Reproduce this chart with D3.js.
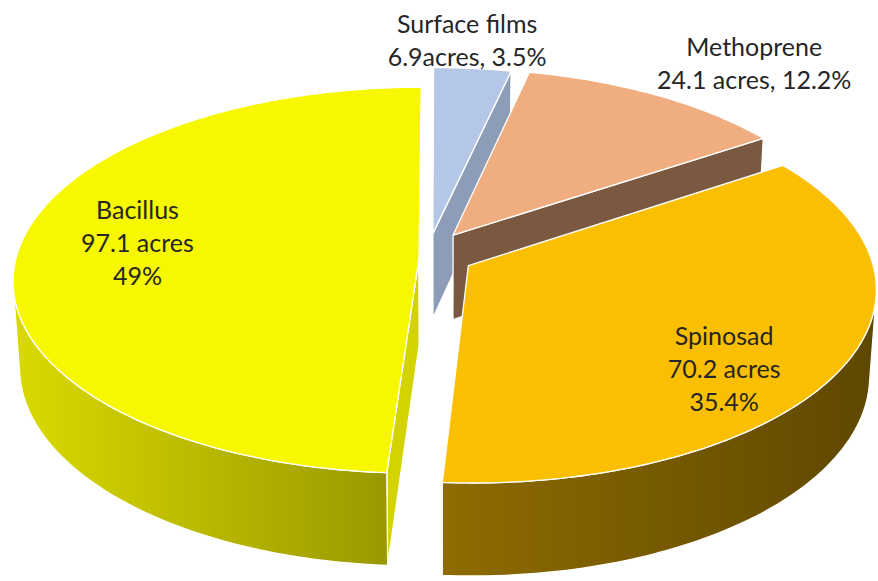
<!DOCTYPE html>
<html>
<head>
<meta charset="utf-8">
<script src="https://cdn.jsdelivr.net/npm/d3@7"></script>
<style>
  body { margin: 0; background: #fff; }
</style>
</head>
<body>
<div id="chart"></div>
<script>
// Data
const categories = ["Surface films", "Methoprene", "Spinosad", "Bacillus"];
const acres = [6.9, 24.1, 70.2, 97.1];
const percents = [3.5, 12.2, 35.4, 49];

// label text lines (the first one has no space in the original)
const labelLines = [
  [categories[0], acres[0] + "acres, " + percents[0] + "%"],
  [categories[1], acres[1] + " acres, " + percents[1] + "%"],
  [categories[2], acres[2] + " acres", percents[2] + "%"],
  [categories[3], acres[3] + " acres", percents[3] + "%"]
];

// Colours per slice
const topColors  = ["#b4c7e7", "#f0ad80", "#fabf00", "#f7f700"];
const sideLeft   = ["#8d9cb7", "#7b5940", "#8f6c00", "#dada00"];
const sideRight  = ["#8d9cb7", "#7b5940", "#5e4700", "#999900"];
const cutColors  = ["#8d9cb7", "#7b5940", "#8d6b00", "#d3d300"];

// explosion of each slice, world units (pie radius = 1)
const explodeX = [-0.018, 0.033, 0.07, -0.052];
const explodeZ = [0.13, 0.122, -0.04, 0];

// label position relative to slice centre: radius and angle (deg, clockwise from top)
const labelR = [1.19, 1.34, 0.78, 0.71];
const labelA = [4.6, 39.4, 130.8, 276.4];

const width = 878, height = 581;

// 3d view settings
const cx = 440, cy = 258, scale = 403;
const elev = 28.2 * Math.PI / 180;
const persp = 0.1306;
const thick = 0.244;
const camDist = 1 / persp;
const camera = [0, camDist * Math.sin(elev), -camDist * Math.cos(elev)];

function project(p) {
  const X = p[0], Y = p[1], Z = p[2];
  const yv = Y * Math.cos(elev) + Z * Math.sin(elev);
  const zv = Z * Math.cos(elev) - Y * Math.sin(elev);
  const f = 1 / (1 + persp * zv);
  return [cx + scale * X * f, cy - scale * yv * f];
}

function viewDepth(p) {
  return p[2] * Math.cos(elev) - p[1] * Math.sin(elev);
}

// is a face with this outward normal, through point p, facing the camera
function facing(normal, p) {
  return normal[0] * (camera[0] - p[0]) + normal[1] * (camera[1] - p[1]) + normal[2] * (camera[2] - p[2]) > 0;
}

const pie = d3.pie().sort(null).value(d => d)(acres);

const svg = d3.select("#chart").append("svg")
  .attr("width", width)
  .attr("height", height)
  .attr("viewBox", [0, 0, width, height]);

svg.append("rect").attr("width", width).attr("height", height).attr("fill", "#fff");

const defs = svg.append("defs");
const line = d3.line();

// build faces for every slice
const slices = pie.map((arc, i) => {
  const c = [explodeX[i], 0, explodeZ[i]];
  const a0 = arc.startAngle, a1 = arc.endAngle;
  const rim = (a, y) => [c[0] + Math.sin(a), y, c[2] + Math.cos(a)];
  const n = Math.max(4, Math.ceil((a1 - a0) / (Math.PI / 180)));
  const angles = d3.range(n + 1).map(k => a0 + (a1 - a0) * k / n);

  const faces = [];

  // radial cut faces
  const cStart = [-Math.cos(a0), 0, Math.sin(a0)];
  const startPts = [c, rim(a0, 0), rim(a0, -thick), [c[0], -thick, c[2]]];
  if (facing(cStart, rim(a0, -thick / 2).map((v, k) => (v + c[k]) / 2)))
    faces.push({type: "cut", pts: startPts});
  const cEnd = [Math.cos(a1), 0, -Math.sin(a1)];
  const endPts = [c, rim(a1, 0), rim(a1, -thick), [c[0], -thick, c[2]]];
  if (facing(cEnd, rim(a1, -thick / 2).map((v, k) => (v + c[k]) / 2)))
    faces.push({type: "cut", pts: endPts});

  // outer wall, keep the runs that face the camera
  let run = [];
  const runs = [];
  for (let k = 0; k < n; k++) {
    const am = (angles[k] + angles[k + 1]) / 2;
    const vis = facing([Math.sin(am), 0, Math.cos(am)], rim(am, -thick / 2));
    if (vis) {
      if (run.length === 0) run.push(angles[k]);
      run.push(angles[k + 1]);
    } else if (run.length) { runs.push(run); run = []; }
  }
  if (run.length) runs.push(run);
  runs.forEach(r => {
    const pts = r.map(a => rim(a, 0)).concat(r.slice().reverse().map(a => rim(a, -thick)));
    faces.push({type: "wall", pts: pts});
  });

  // top face
  faces.push({type: "top", pts: [c].concat(angles.map(a => rim(a, 0)))});

  const mid = (a0 + a1) / 2;
  const depthKey = viewDepth([c[0] + 0.5 * Math.sin(mid), 0, c[2] + 0.5 * Math.cos(mid)]);
  return {i, c, faces, depthKey};
});

// far slices first
slices.sort((a, b) => b.depthKey - a.depthKey);

slices.forEach(s => {
  const i = s.i;
  const g = svg.append("g").attr("class", "slice");
  s.faces.forEach((face, fi) => {
    const pts2 = face.pts.map(project);
    let fill;
    if (face.type === "top") fill = topColors[i];
    else if (face.type === "cut") fill = cutColors[i];
    else {
      const id = "wall" + i + "_" + fi;
      const xs = pts2.map(p => p[0]);
      const grad = defs.append("linearGradient")
        .attr("id", id)
        .attr("gradientUnits", "userSpaceOnUse")
        .attr("x1", d3.min(xs)).attr("x2", d3.max(xs))
        .attr("y1", 0).attr("y2", 0);
      grad.append("stop").attr("offset", 0).attr("stop-color", sideLeft[i]);
      grad.append("stop").attr("offset", 1).attr("stop-color", sideRight[i]);
      fill = "url(#" + id + ")";
    }
    g.append("path")
      .attr("d", line(pts2) + "Z")
      .attr("fill", fill)
      .attr("stroke", "#fff")
      .attr("stroke-width", 1.3)
      .attr("stroke-linejoin", "round");
  });
});

// Data labels
const lineGap = 33;
pie.forEach((arc, i) => {
  const a = labelA[i] * Math.PI / 180;
  const p = project([explodeX[i] + labelR[i] * Math.sin(a), 0, explodeZ[i] + labelR[i] * Math.cos(a)]);
  const lines = labelLines[i];
  const t = svg.append("text")
    .attr("text-anchor", "middle")
    .attr("font-family", "Lato, 'Open Sans', sans-serif")
    .attr("font-size", 25)
    .attr("fill", "#262626");
  lines.forEach((txt, k) => {
    t.append("tspan")
      .attr("x", p[0])
      .attr("y", p[1] + (k - (lines.length - 1) / 2) * lineGap)
      .attr("dy", "0.35em")
      .text(txt);
  });
});
</script>
</body>
</html>
